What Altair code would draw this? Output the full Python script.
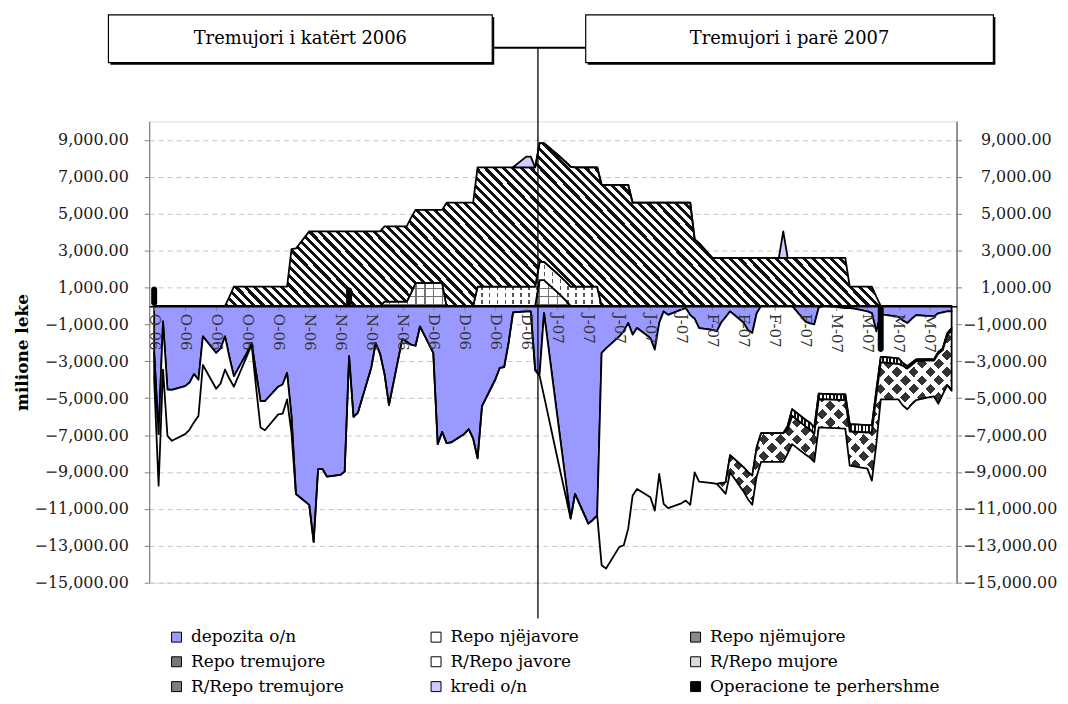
import math
import altair as alt
import pandas as pd

# ---------------- data (milione leke), business days 2 Oct 2006 - 31 Mar 2007 ----------------
DATES = [d.strftime("%Y-%m-%d") for d in pd.bdate_range("2006-10-02", "2007-03-30")] + ["2007-03-31"]

DEPOZITA = [
    -2500, -6950, -845, -4530, -4550,
    -4350, -4150, -3700, -4000, -1650,
    -2550, -2300, -1650, -2800, -3810,
    -2520, -2010, -3600, -5160, -5160,
    -4380, -4260, -3630, -6000, -10190,
    -10780, -12790, -8840, -8840, -9250,
    -9160, -8980, -2730, -6020, -5780,
    -3350, -2010, -2600, -3700, -5370,
    -1800, -1950, -2100, -2160, -1115,
    -2550, -7490, -6830, -7440, -7400,
    -6940, -6680, -7190, -8260, -5430,
    -3990, -3360, -3320, -2000, -350,
    -300, -300, -3450, -3720, -395,
    -5990, -7830, -9680, -11530, -10190,
    -11800, -11600, -11350, -2550, -2300,
    -1650, -1380, -930, -1560, -1200,
    -1740, -2370, -930, -300, -485,
    -200, -125, -500, -700, -1200,
    -1300, -1380, -900, -600, -300,
    -900, -1300, -1470, -400, 0,
    0, 0, 0, 0, 0,
    -850, -950, -1000, -100, 0,
    -50, -100, -125, -125, -150,
    -300, -395, -1380, -485, -485,
    -600, -800, -930, -700, -500,
    -550, -570, -400, -350, -300,
    -300,
]
REPO_1W = [
    -1500, -2790, -2605, -2510, -2760,
    -2600, -2550, -2600, -1960, -1550,
    -1940, -1900, -1800, -1150, -570,
    -160, -90, -800, -1430, -1580,
    -1500, -1580, -1440, -900, 0,
] + [0] * 35 + [
    0, 0, -50, -80, -4495,
    -2238, -1493, -746, 0, 0,
    0, 0, 0, -11500, -11930,
    -11410, -11590, -11140, -8720, -8720,
    -8630, -8720, -8180, -10430, -10475,
    -10500, -10425, -10280, -8320, -8320,
    -8300, -8270, -8700, -8960, -7790,
    -7840, -7700, -7730, -7266, -6900,
    -6900, -6900, -6900, -6500, -5600,
    -5320, -5380, -5590, -4660, -4770,
    -4740, -4700, -4675, -6285, -6270,
    -6160, -6075, -3220, -2285, -2295,
    -2250, -2300, -2340, -2380, -2400,
    -2330, -2330, -2100, -1950, -1200,
    -900,
]
REPO_1M = [0] * 103 + [
    -200, -360, -360, -360, -360, -300, -300, -300, -300, -300,
    -400, -400, -400, -400, -300, -300, -300, -300, -150, -130,
    -120, -100, -70, -70, -100, -100, -100, -100,
]
REPO_3M = [0] * 92 + [
    -300, -630, -930, -1310, -1460, -1580, -1560, -1550, -1550, -1550,
    -1550, -1300, -1530, -1520, -1530, -1500, -1530, -1530, -1530, -1540,
    -1550, -1850, -1880, -1960, -2600, -2600, -2000, -1990, -1920, -2150,
    -2200, -2130, -2100, -2000, -1930, -2700, -2400, -2700, -3300,
]
RREPO_1W = [0] * 53 + [1040] * 10 + [990, 990, 1010, 1020, 1030] + [1040] * 5 + [0] * 58
RREPO_1M = [0] * 38 + [230] * 4 + [700] + [1250] * 5 + [0] * 15 + [1400, 1400, 745, 510, 270] + [0] * 63
RREPO_3M = ([0] * 13 + [500] + [1040] * 9 + [3070, 3110] + [4040] * 13 + [4080] * 5 + [3950] * 5
            + [5590] * 5 + [6470] * 10 + [6430, 6430, 6450, 6460, 6470, 6500] + [6470] * 4
            + [6560] * 5 + [5590] * 10 + [3600, 3400] + [2600] * 23 + [1040] * 4 + [500] + [0] * 13)
KREDI = [0] * 60 + [580, 580] + [0] * 40 + [1440] + [0] * 28
OPER = [1050] + [0] * 31 + [1000] + [0] * 85 + [-2500] + [0] * 12

for arr in (DEPOZITA, REPO_1W, REPO_1M, REPO_3M, RREPO_1W, RREPO_1M, RREPO_3M, KREDI, OPER):
    assert len(arr) == len(DATES), len(arr)

QUARTERS = ["Tremujori i katërt 2006", "Tremujori i parë 2007"]
DIVIDER_DATE = "2006-12-27T15:00:00Z"
Y_TICKS = [-15000, -13000, -11000, -9000, -7000, -5000, -3000, -1000, 1000, 3000, 5000, 7000, 9000]
Y_TICKS_NEG = [v for v in Y_TICKS if v < 0]
Y_TICKS_POS = [v for v in Y_TICKS if v > 0]
LEGEND_NAMES = ["depozita o/n", "Repo njëjavore", "Repo njëmujore", "Repo tremujore", "R/Repo javore",
                "R/Repo mujore", "R/Repo tremujore", "kredi o/n", "Operacione te perhershme"]
LEGEND_COLORS = ["#9999FF", "#FFFFFF", "#8A8A8A", "#777777", "#FFFFFF",
                 "#DADADA", "#7F7F7F", "#CCCCFF", "#000000"]

# ---------------- geometry ----------------
PW, PH = 812, 464
Y_MIN, Y_MAX = -15000, 10000
X0 = pd.Timestamp("2006-10-02", tz="UTC")
X1 = pd.Timestamp("2007-03-31", tz="UTC")
X0_MS = int(X0.timestamp() * 1000)
X1_MS = int(X1.timestamp() * 1000)
TICK_MS = [int((X0 + pd.Timedelta(days=7 * k)).timestamp() * 1000) for k in range(26)]
FONT = "DejaVu Serif"


def xpx(s):
    t = pd.Timestamp(s, tz="UTC")
    return (t - X0).total_seconds() / (X1 - X0).total_seconds() * PW


def ypx(v):
    return (Y_MAX - v) / (Y_MAX - Y_MIN) * PH


# ---------------- table ----------------
df = pd.DataFrame({"date": DATES})
df["n0"] = 0
df["n1"] = DEPOZITA
df["n2"] = df["n1"] + REPO_1W
df["n3"] = df["n2"] + REPO_1M
df["n4"] = df["n3"] + REPO_3M
df["p0"] = 0
df["p1"] = RREPO_1M
df["p2"] = df["p1"] + RREPO_1W
df["p3"] = df["p2"] + RREPO_3M
df["p4"] = df["p3"] + KREDI
df["op"] = OPER


def span(values):
    idx = [i for i, v in enumerate(values) if v != 0]
    return max(idx[0] - 1, 0), min(idx[-1] + 1, len(values) - 1)


def stripes(kind, period, on, on_color, off_color, W, H):
    r = H / W
    if kind == "v":
        x1, y1, x2, y2, L = 0, 0, 1, 0, W
    elif kind == "h":
        x1, y1, x2, y2, L = 0, 0, 0, 1, H
    elif kind == "back":   # "\" stripes
        s = (1 + r) / (1 + r * r)
        x1, y1, x2, y2, L = 0, 1, s, 1 - r * s, (W + H) / math.sqrt(2)
    else:                  # "/" stripes
        s = (1 + r) / (1 + r * r)
        x1, y1, x2, y2, L = 0, 0, s, r * s, (W + H) / math.sqrt(2)
    n = int(L / period) + 1
    stops = []
    for i in range(n):
        a = min(i * period / L, 1.0)
        b = min((i * period + on) / L, 1.0)
        c = min((i + 1) * period / L, 1.0)
        stops += [{"offset": round(a, 5), "color": on_color},
                  {"offset": round(b, 5), "color": on_color},
                  {"offset": round(b, 5), "color": off_color},
                  {"offset": round(c, 5), "color": off_color}]
    return {"gradient": "linear", "x1": x1, "y1": y1, "x2": x2, "y2": y2, "stops": stops}


X_ENC = alt.X("date:T",
              scale=alt.Scale(type="utc", domain=[X0_MS, X1_MS]),
              axis=alt.Axis(orient="bottom", offset=-278, values=TICK_MS,
                            labelExpr="slice(utcFormat(datum.value, '%b'), 0, 1) + '-' + utcFormat(datum.value, '%y')",
                            labelAngle=90, labelAlign="left", labelBaseline="middle",
                            labelFont=FONT, labelFontSize=15, labelColor="#333333",
                            labelPadding=3, labelOverlap=False, labelFlush=False,
                            tickSize=4, tickColor="#808080", domainColor="black", domainWidth=1.5,
                            grid=False, zindex=1),
              title=None)
Y_SCALE = alt.Scale(domain=[Y_MIN, Y_MAX], nice=False, zero=False)
Y_AXIS = alt.Axis(orient="left", values=Y_TICKS, format=",.2f", grid=True,
                  gridDash=[5, 4], gridColor="#c4c4c4", gridWidth=1,
                  domainColor="#808080", domainWidth=1.2, tickColor="#808080", tickSize=5,
                  labelFont=FONT, labelFontSize=16, labelColor="#1a1a1a", labelPadding=16,
                  titleFont=FONT, titleFontSize=17, titleFontWeight="bold", titleColor="black",
                  titlePadding=3)


def area(lo_col, hi_col, values, fill, stroke=True):
    lo, hi = span(values)
    sub = df.iloc[lo:hi + 1][["date", lo_col, hi_col]]
    kw = {"interpolate": "linear"}
    if stroke:
        kw.update(stroke="black", strokeWidth=1.8, strokeJoin="round")
    else:
        kw.update(strokeWidth=0)
    if callable(fill):
        W = xpx(sub["date"].iloc[-1]) - xpx(sub["date"].iloc[0])
        vals = pd.concat([sub[lo_col], sub[hi_col]])
        H = max(ypx(vals.min()) - ypx(vals.max()), 1.0)
        fill = fill(W, H)
    return alt.Chart(sub).mark_area(fill=fill, **kw).encode(
        x=X_ENC,
        y=alt.Y(f"{lo_col}:Q", scale=Y_SCALE, axis=Y_AXIS, title="milione leke"),
        y2=alt.Y2(f"{hi_col}:Q"),
    )


T = "rgba(255,255,255,0)"
layers = [
    # positive side: R/Repo mujore (grid), R/Repo javore (dashes), R/Repo tremujore (hatch), kredi
    area("p0", "p1", RREPO_1M, lambda W, H: stripes("v", 9, 1.3, "#707070", "white", W, H), stroke=False),
    area("p0", "p1", RREPO_1M, lambda W, H: stripes("h", 8, 1.3, "#707070", T, W, H)),
    area("p1", "p2", RREPO_1W, lambda W, H: stripes("v", 8, 1.6, "#555555", "white", W, H), stroke=False),
    area("p1", "p2", RREPO_1W, lambda W, H: stripes("h", 7, 3, "white", T, W, H)),
    area("p2", "p3", RREPO_3M, lambda W, H: stripes("back", 6.6, 3.0, "#111111", "white", W, H)),
    area("p3", "p4", KREDI, "#CCCCFF"),
    # negative side
    area("n0", "n1", DEPOZITA, "#9999FF"),
    area("n1", "n2", REPO_1W, "white"),
    area("n2", "n3", REPO_1M, lambda W, H: stripes("v", 3.6, 1.8, "#111111", "white", W, H)),
    area("n3", "n4", REPO_3M, lambda W, H: stripes("fwd", 12, 7.5, "#333333", "white", W, H), stroke=False),
    area("n3", "n4", REPO_3M, lambda W, H: stripes("back", 12, 4.5, "white", T, W, H)),
]

bars = alt.Chart(df[df["op"] != 0]).mark_bar(color="black", size=6, cornerRadius=3).encode(
    x=X_ENC,
    y=alt.Y("op:Q", scale=Y_SCALE, axis=Y_AXIS, title="milione leke", stack=None),
    y2=alt.datum(0),
)

divider = alt.Chart(pd.DataFrame({"date": [DIVIDER_DATE]})).mark_rule(color="black", strokeWidth=1.3).encode(
    x=X_ENC, y=alt.value(-74), y2=alt.value(500))

connector = alt.Chart(pd.DataFrame({"a": [0]})).mark_rule(color="black", strokeWidth=2).encode(
    x=alt.value(345), x2=alt.value(439), y=alt.value(-74))

box_data = pd.DataFrame({"label": QUARTERS})
boxes = []
for i, (x_a, x_b) in enumerate([(-41, 345), (439, 849)]):
    row = box_data.iloc[[i]]
    boxes.append(alt.Chart(row).mark_rect(color="black").encode(
        x=alt.value(x_a + 2), x2=alt.value(x_b + 2), y=alt.value(-105), y2=alt.value(-57)))
    boxes.append(alt.Chart(row).mark_rect(fill="white", stroke="black", strokeWidth=1.2).encode(
        x=alt.value(x_a), x2=alt.value(x_b), y=alt.value(-107), y2=alt.value(-59)))
    boxes.append(alt.Chart(row).mark_text(font=FONT, fontSize=18, color="black").encode(
        x=alt.value((x_a + x_b) / 2), y=alt.value(-83), text="label:N"))

inner = alt.layer(*layers, bars, divider, connector, *boxes)


def right_axis(values, pad):
    return alt.Axis(orient="right", values=values, format=",.2f", grid=False, labelAlign="left",
                    domainColor="#808080", domainWidth=1.2, tickColor="#808080", tickSize=5,
                    labelFont=FONT, labelFontSize=16, labelColor="#1a1a1a", labelPadding=pad)


legend_df = pd.DataFrame({"series": LEGEND_NAMES, "v": [0] * len(LEGEND_NAMES),
                          "date": ["2006-10-02"] * len(LEGEND_NAMES)})
right_neg = alt.Chart(legend_df).mark_square(opacity=0).encode(
    x=X_ENC,
    y=alt.Y("v:Q", scale=Y_SCALE, title=None, axis=right_axis(Y_TICKS_NEG, 1)),
    color=alt.Color("series:N", scale=alt.Scale(domain=LEGEND_NAMES, range=LEGEND_COLORS),
                    legend=alt.Legend(orient="none", legendX=19, legendY=510, columns=3, direction="horizontal",
                                      gridAlign="all", columnPadding=6, rowPadding=7, padding=0, title=None,
                                      symbolType="square", symbolSize=100, symbolStrokeColor="black",
                                      symbolStrokeWidth=1, symbolOpacity=1, labelOffset=6,
                                      labelFont=FONT, labelFontSize=17, labelColor="black",
                                      labelLimit=400)),
)
right_pos = alt.Chart(legend_df.iloc[[0]]).mark_square(opacity=0).encode(
    x=X_ENC,
    y=alt.Y("v:Q", scale=Y_SCALE, title=None, axis=right_axis(Y_TICKS_POS, 19)),
)

chart = alt.layer(inner, right_neg, right_pos).resolve_scale(y="independent").properties(
    width=PW, height=PH,
    autosize=alt.AutoSizeParams(type="none"),
    padding={"left": 142, "top": 112, "right": 104, "bottom": 120},
).configure_view(stroke=None).configure(background="white").configure_legend(
    labelFont=FONT, labelFontSize=17)

chart.save("out.html", embed_options={"renderer": "svg", "actions": False})
